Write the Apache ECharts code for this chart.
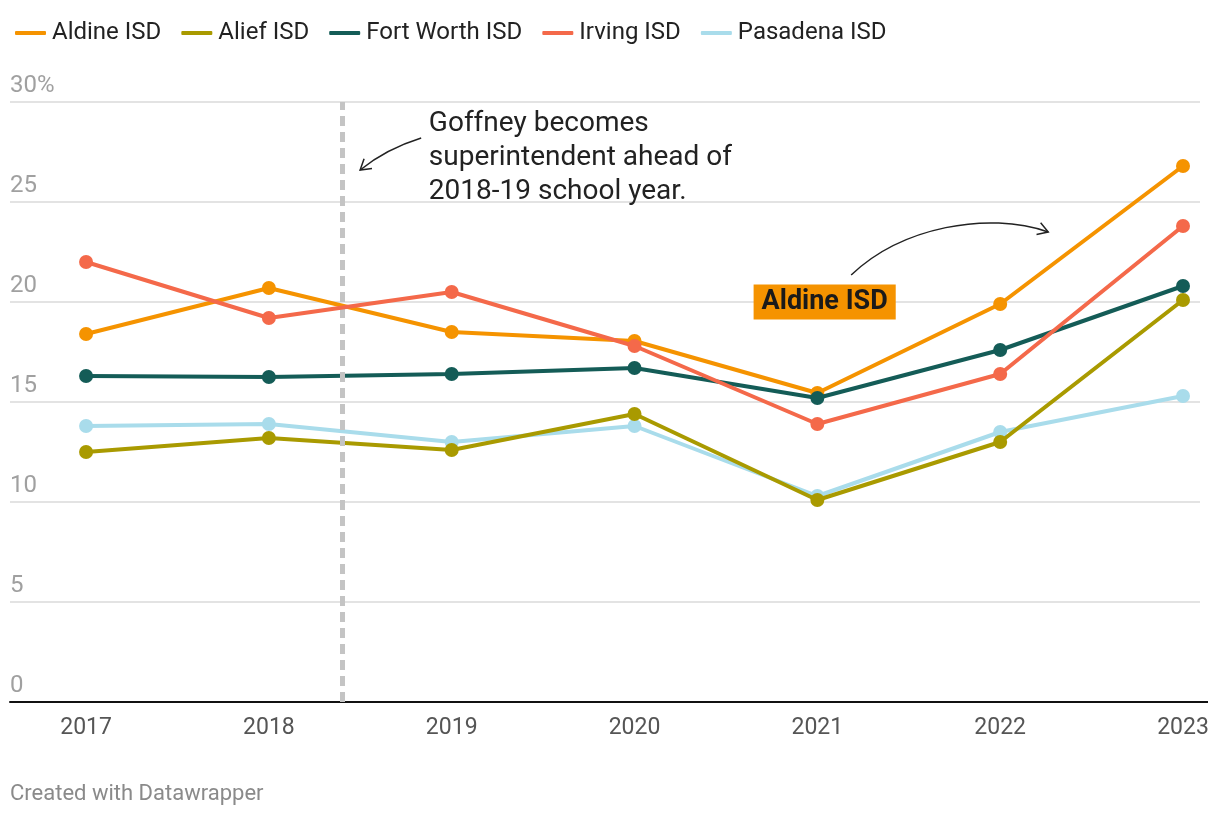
<!DOCTYPE html>
<html><head><meta charset="utf-8">
<script src="https://cdn.jsdelivr.net/npm/echarts@6/dist/echarts.min.js"></script>
<style>html,body{margin:0;padding:0;background:#fff}#c{width:1220px;height:818px}</style>
</head><body><div id="c"></div>
<script>
const years = [2017, 2018, 2019, 2020, 2021, 2022, 2023];
const aldine = [18.4, 20.7, 18.5, 18.05, 15.45, 19.9, 26.8];
const alief = [12.5, 13.2, 12.6, 14.4, 10.1, 13.0, 20.1];
const fortWorth = [16.3, 16.25, 16.4, 16.7, 15.2, 17.6, 20.8];
const irving = [22.0, 19.2, 20.5, 17.8, 13.9, 16.4, 23.8];
const pasadena = [13.8, 13.9, 13.0, 13.8, 10.3, 13.5, 15.3];
const seriesNames = ['Aldine ISD', 'Alief ISD', 'Fort Worth ISD', 'Irving ISD', 'Pasadena ISD'];
const seriesColors = ['#f59300', '#a99a00', '#145c57', '#f4694a', '#a9dceb'];
const yTicks = [0, 5, 10, 15, 20, 25, 30];
const goffneyYear = 2018.4;
const noteText = 'Goffney becomes\nsuperintendent ahead of\n2018-19 school year.';
const labelText = 'Aldine ISD';

const FONT = 'Roboto, "Noto Sans", sans-serif';
const chart = echarts.init(document.getElementById('c'), null, {renderer: 'canvas'});
const values = [aldine, alief, fortWorth, irving, pasadena];

const series = values.map((vals, i) => ({
  name: seriesNames[i],
  type: 'line',
  data: years.map((y, j) => [y, vals[j]]),
  symbol: 'circle',
  symbolSize: 14,
  z: i === 4 ? 1 : 2 + i,
  lineStyle: {width: 4, color: seriesColors[i]},
  itemStyle: {color: seriesColors[i]},
  emphasis: {disabled: true},
  silent: true
}));
series[0].markLine = {
  silent: true, symbol: 'none', label: {show: false},
  lineStyle: {color: '#c4c4c4', width: 5, type: [10, 6]},
  data: [{xAxis: goffneyYear}]
};

chart.setOption({
  animation: false,
  backgroundColor: '#fff',
  legend: {
    left: 10, top: 16, itemWidth: 31, itemHeight: 4, itemGap: 20,
    icon: 'roundRect',
    textStyle: {fontFamily: FONT, fontSize: 24, color: '#222', padding: [0, 0, 0, 1]},
    data: seriesNames
  },
  grid: {left: 10, right: 20, top: 102, bottom: 116, containLabel: false},
  xAxis: {
    type: 'value', min: 2016.584, max: 2023.093,
    axisLine: {show: true, lineStyle: {color: '#111', width: 2}},
    axisTick: {show: false},
    splitLine: {show: false},
    axisLabel: {customValues: years, color: '#555', fontFamily: FONT, fontSize: 23, margin: 15,
      formatter: v => String(Math.round(v))}
  },
  yAxis: {
    type: 'value', min: 0, max: 30, interval: 5,
    axisLine: {show: false}, axisTick: {show: false},
    splitLine: {lineStyle: {color: '#e3e3e3', width: 2}},
    axisLabel: {inside: true, verticalAlign: 'bottom', margin: 0, padding: [0, 0, 4, 0],
      color: '#a0a0a0', fontFamily: FONT, fontSize: 24,
      formatter: v => v === 30 ? '30%' : String(v)}
  },
  series: series
});

function P(x, y) { return chart.convertToPixel({gridIndex: 0}, [x, y]); }
function head(tip, from, len) {
  const dx = tip[0] - from[0], dy = tip[1] - from[1];
  const a = Math.atan2(dy, dx);
  const w1 = [tip[0] - len * Math.cos(a - 0.55), tip[1] - len * Math.sin(a - 0.55)];
  const w2 = [tip[0] - len * Math.cos(a + 0.55), tip[1] - len * Math.sin(a + 0.55)];
  return [w1, tip, w2];
}

const a1s = P(2018.833, 28.2), a1c = P(2018.64, 27.65), a1e = P(2018.499, 26.6);
const a2s = P(2021.185, 21.35), a2c1 = P(2021.46, 23.75), a2c2 = P(2021.93, 24.55), a2e = P(2022.263, 23.5);
const note = P(2018.875, 29.75);
const lab = P(2021.04, 20.0);
const axR = P(2023.093, 0);

chart.setOption({
  graphic: [
    {type: 'line', shape: {x1: axR[0] - 2, y1: axR[1], x2: axR[0] + 8, y2: axR[1]}, style: {stroke: '#111', lineWidth: 2}, silent: true},
    {type: 'text', x: note[0], y: note[1], silent: true,
      style: {text: noteText, font: '28px ' + FONT, fill: '#222', lineHeight: 34, textVerticalAlign: 'top'}},
    {type: 'bezierCurve', silent: true,
      shape: {x1: a1s[0], y1: a1s[1], cpx1: a1c[0], cpy1: a1c[1], x2: a1e[0], y2: a1e[1]},
      style: {stroke: '#222', lineWidth: 1.5, fill: null}},
    {type: 'polyline', silent: true, shape: {points: head(a1e, a1c, 12)},
      style: {stroke: '#222', lineWidth: 1.5, fill: null}},
    {type: 'bezierCurve', silent: true,
      shape: {x1: a2s[0], y1: a2s[1], cpx1: a2c1[0], cpy1: a2c1[1], cpx2: a2c2[0], cpy2: a2c2[1], x2: a2e[0], y2: a2e[1]},
      style: {stroke: '#222', lineWidth: 1.5, fill: null}},
    {type: 'polyline', silent: true, shape: {points: head(a2e, a2c2, 12)},
      style: {stroke: '#222', lineWidth: 1.5, fill: null}},
    {type: 'text', x: lab[0], y: lab[1], silent: true, z: 100,
      style: {text: labelText, font: 'bold 27px ' + FONT, fill: '#1a1a1a', align: 'center', verticalAlign: 'middle',
        backgroundColor: '#f59300', padding: [4, 8, 4, 8]}},
    {type: 'text', left: 10, top: 783, silent: true,
      style: {text: 'Created with Datawrapper', font: '22px ' + FONT, fill: '#8a8a8a'}}
  ]
});
</script>
</body></html>
